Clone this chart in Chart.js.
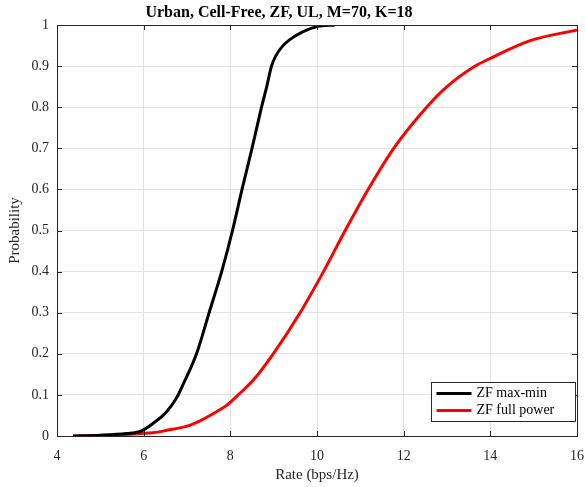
<!DOCTYPE html>
<html>
<head>
<meta charset="utf-8">
<script src="https://cdn.jsdelivr.net/npm/chart.js"></script>
<style>
  html, body { margin: 0; padding: 0; background: #fff; }
  #wrap { width: 585px; height: 487px; }
</style>
</head>
<body>
<div id="wrap"><canvas id="cdf-chart" width="585" height="487"></canvas></div>
<script>
const chartTitle = 'Urban, Cell-Free, ZF, UL, M=70, K=18';
const seriesLabels = ['ZF max-min', 'ZF full power'];

const maxMinRate = [4.37, 5.0, 5.6, 5.92, 6.22, 6.53, 6.76, 6.92, 7.22, 7.51, 7.80, 8.05, 8.27, 8.50, 8.72, 8.84, 8.95, 9.05, 9.2, 9.38, 9.68, 10.0, 10.41];
const maxMinProb = [0, 0.002, 0.006, 0.011, 0.031, 0.059, 0.093, 0.128, 0.2, 0.3, 0.4, 0.5, 0.6, 0.7, 0.8, 0.85, 0.9, 0.925, 0.948, 0.965, 0.984, 0.996, 1.0];

const fullPowerRate = [4.37, 5.0, 5.5, 5.92, 6.22, 6.54, 7.0, 7.3, 7.53, 7.92, 8.22, 8.53, 8.99, 9.61, 10.15, 10.65, 11.18, 11.77, 12.53, 13.0, 13.65, 14.0, 14.92, 16.0];
const fullPowerProb = [0, 0.001, 0.003, 0.006, 0.008, 0.014, 0.024, 0.037, 0.05, 0.075, 0.104, 0.136, 0.2, 0.3, 0.4, 0.5, 0.6, 0.7, 0.8, 0.85, 0.9, 0.919, 0.962, 0.988];

const xTicks = [4, 6, 8, 10, 12, 14, 16];
const yTicks = [0, 0.1, 0.2, 0.3, 0.4, 0.5, 0.6, 0.7, 0.8, 0.9, 1];

const axisColor = '#262626';
const serif = '"Liberation Serif", "Times New Roman", serif';

function toPoints(xs, ys) {
    return xs.map((x, i) => ({x: x, y: ys[i]}));
}

// title + box + inward ticks + legend, MATLAB style
const matlabFrame = {
    id: 'matlabFrame',
    afterDraw(chart) {
        const ctx = chart.ctx;
        const a = chart.chartArea;
        const xs = chart.scales.x, ys = chart.scales.y;
        ctx.save();

        ctx.fillStyle = '#000';
        ctx.font = 'bold 16px ' + serif;
        ctx.textAlign = 'center';
        ctx.textBaseline = 'middle';
        ctx.fillText(chartTitle, 279, 13);
        ctx.textAlign = 'left';

        ctx.strokeStyle = axisColor;
        ctx.lineWidth = 1;
        ctx.beginPath();
        xTicks.forEach(v => {
            const px = Math.round(xs.getPixelForValue(v)) + 0.5;
            ctx.moveTo(px, a.bottom); ctx.lineTo(px, a.bottom - 5);
            ctx.moveTo(px, a.top); ctx.lineTo(px, a.top + 5);
        });
        yTicks.forEach(v => {
            const py = Math.round(ys.getPixelForValue(v)) + 0.5;
            ctx.moveTo(a.left, py); ctx.lineTo(a.left + 5, py);
            ctx.moveTo(a.right, py); ctx.lineTo(a.right - 5, py);
        });
        ctx.stroke();
        ctx.strokeRect(Math.round(a.left) + 0.5, Math.round(a.top) + 0.5,
            Math.round(a.right - a.left), Math.round(a.bottom - a.top));

        // legend
        const w = 144, h = 39;
        const lx = Math.round(a.right - 2 - w) + 0.5;
        const ly = Math.round(a.bottom - 15 - h) + 0.5;
        ctx.fillStyle = '#fff';
        ctx.fillRect(lx, ly, w, h);
        ctx.strokeStyle = axisColor;
        ctx.strokeRect(lx, ly, w, h);
        ctx.font = '14px ' + serif;
        chart.data.datasets.forEach((ds, i) => {
            const cy = ly + 11 + i * 17;
            ctx.strokeStyle = ds.borderColor;
            ctx.lineWidth = 3;
            ctx.beginPath();
            ctx.moveTo(lx + 5, cy); ctx.lineTo(lx + 40, cy);
            ctx.stroke();
            ctx.fillStyle = '#000';
            ctx.fillText(ds.label, lx + 45, cy);
        });
        ctx.restore();
    }
};

new Chart(document.getElementById('cdf-chart'), {
    type: 'line',
    data: {
        datasets: [{
            label: seriesLabels[0],
            data: toPoints(maxMinRate, maxMinProb),
            borderColor: '#000000',
            borderWidth: 3,
            pointRadius: 0,
            cubicInterpolationMode: 'monotone'
        }, {
            label: seriesLabels[1],
            data: toPoints(fullPowerRate, fullPowerProb),
            borderColor: '#ff0000',
            borderWidth: 3,
            pointRadius: 0,
            cubicInterpolationMode: 'monotone'
        }]
    },
    options: {
        responsive: false,
        animation: false,
        layout: { padding: { left: 0, right: 8, top: 25, bottom: 0 } },
        plugins: {
            legend: { display: false },
            tooltip: { enabled: false },
            title: { display: false }
        },
        scales: {
            x: {
                type: 'linear',
                min: 4, max: 16,
                afterBuildTicks: s => { s.ticks = xTicks.map(v => ({value: v})); },
                afterFit: s => { s.height = 51; s.paddingLeft = 0; s.paddingRight = 0; },
                grid: { color: '#e3e3e3', drawTicks: false },
                border: { display: false },
                ticks: { color: axisColor, font: { family: serif, size: 14 }, padding: 12, maxRotation: 0 },
                title: {
                    display: true, text: 'Rate (bps/Hz)', color: axisColor,
                    font: { family: serif, size: 15 }, padding: { top: 2, bottom: 3 }
                }
            },
            y: {
                min: 0, max: 1,
                afterBuildTicks: s => { s.ticks = yTicks.map(v => ({value: v})); },
                afterFit: s => { s.width = 57; s.paddingTop = 0; s.paddingBottom = 0; },
                grid: { color: '#e3e3e3', drawTicks: false },
                border: { display: false },
                ticks: {
                    color: axisColor, font: { family: serif, size: 14 }, padding: 8,
                    callback: v => String(+v.toFixed(1))
                },
                title: {
                    display: true, text: 'Probability', color: axisColor,
                    font: { family: serif, size: 15 }, padding: { top: 6, bottom: 0 }
                }
            }
        }
    },
    plugins: [matlabFrame]
});
</script>
</body>
</html>
